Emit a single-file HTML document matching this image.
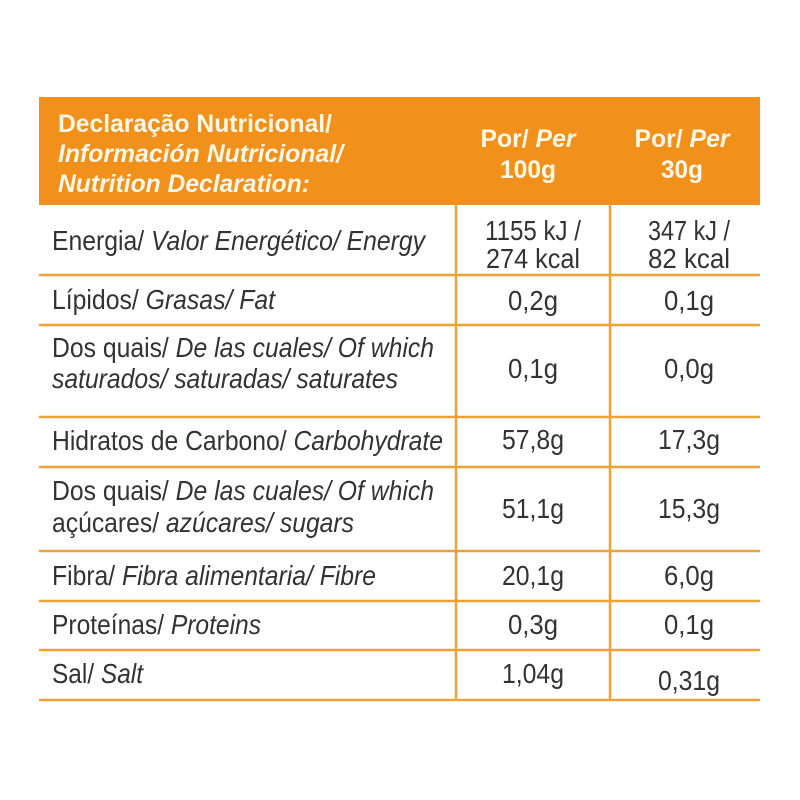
<!DOCTYPE html>
<html><head><meta charset="utf-8"><style>
html,body{margin:0;padding:0;background:#fff;width:800px;height:800px;overflow:hidden}
svg text{font-family:"Liberation Sans",sans-serif}
</style></head><body>
<svg width="800" height="800" viewBox="0 0 800 800" xmlns="http://www.w3.org/2000/svg">
<rect x="39" y="97" width="721" height="108" fill="#F1901A"/>
<g stroke="#EFA135" stroke-width="2.5" fill="none">
<line x1="39" y1="275" x2="760" y2="275"/>
<line x1="39" y1="325" x2="760" y2="325"/>
<line x1="39" y1="417" x2="760" y2="417"/>
<line x1="39" y1="467" x2="760" y2="467"/>
<line x1="39" y1="551" x2="760" y2="551"/>
<line x1="39" y1="601" x2="760" y2="601"/>
<line x1="39" y1="650" x2="760" y2="650"/>
<line x1="39" y1="700" x2="760" y2="700"/>
<line x1="456" y1="204" x2="456" y2="700"/>
<line x1="610" y1="204" x2="610" y2="700"/>
</g>
<g fill="#FFF8E8" font-weight="bold" font-size="25">
<text x="58" y="132" textLength="274" lengthAdjust="spacingAndGlyphs">Declaração Nutricional/</text>
<text x="58" y="162" textLength="285" lengthAdjust="spacingAndGlyphs" font-style="italic">Información Nutricional/</text>
<text x="58" y="192" textLength="252" lengthAdjust="spacingAndGlyphs" font-style="italic">Nutrition Declaration:</text>
<text x="528" y="147" text-anchor="middle" textLength="95" lengthAdjust="spacingAndGlyphs">Por/ <tspan font-style="italic">Per</tspan></text>
<text x="528" y="178" text-anchor="middle" textLength="56" lengthAdjust="spacingAndGlyphs">100g</text>
<text x="682" y="147" text-anchor="middle" textLength="95" lengthAdjust="spacingAndGlyphs">Por/ <tspan font-style="italic">Per</tspan></text>
<text x="682" y="178" text-anchor="middle" textLength="42" lengthAdjust="spacingAndGlyphs">30g</text>
</g>
<g fill="#333" font-size="28">
<text x="52" y="250" textLength="373" lengthAdjust="spacingAndGlyphs">Energia/ <tspan font-style="italic">Valor Energético/ Energy</tspan></text>
<text x="52" y="309" textLength="223" lengthAdjust="spacingAndGlyphs">Lípidos/ <tspan font-style="italic">Grasas/ Fat</tspan></text>
<text x="52" y="357" textLength="382" lengthAdjust="spacingAndGlyphs">Dos quais/ <tspan font-style="italic">De las cuales/ Of which</tspan></text>
<text x="52" y="388" textLength="346" lengthAdjust="spacingAndGlyphs" font-style="italic">saturados/ saturadas/ saturates</text>
<text x="52" y="450" textLength="391" lengthAdjust="spacingAndGlyphs">Hidratos de Carbono/ <tspan font-style="italic">Carbohydrate</tspan></text>
<text x="52" y="500" textLength="382" lengthAdjust="spacingAndGlyphs">Dos quais/ <tspan font-style="italic">De las cuales/ Of which</tspan></text>
<text x="52" y="532" textLength="302" lengthAdjust="spacingAndGlyphs">açúcares/ <tspan font-style="italic">azúcares/ sugars</tspan></text>
<text x="52" y="585" textLength="324" lengthAdjust="spacingAndGlyphs">Fibra/ <tspan font-style="italic">Fibra alimentaria/ Fibre</tspan></text>
<text x="52" y="634" textLength="209" lengthAdjust="spacingAndGlyphs">Proteínas/ <tspan font-style="italic">Proteins</tspan></text>
<text x="52" y="683" textLength="91" lengthAdjust="spacingAndGlyphs">Sal/ <tspan font-style="italic">Salt</tspan></text>
</g>
<g fill="#333" font-size="28" text-anchor="middle">
<text x="533" y="240" textLength="96" lengthAdjust="spacingAndGlyphs">1155 kJ /</text>
<text x="533" y="268" textLength="94" lengthAdjust="spacingAndGlyphs">274 kcal</text>
<text x="689" y="240" textLength="82" lengthAdjust="spacingAndGlyphs">347 kJ /</text>
<text x="689" y="268" textLength="82" lengthAdjust="spacingAndGlyphs">82 kcal</text>
<text x="533" y="310" textLength="50" lengthAdjust="spacingAndGlyphs">0,2g</text>
<text x="689" y="310" textLength="50" lengthAdjust="spacingAndGlyphs">0,1g</text>
<text x="533" y="378" textLength="50" lengthAdjust="spacingAndGlyphs">0,1g</text>
<text x="689" y="378" textLength="50" lengthAdjust="spacingAndGlyphs">0,0g</text>
<text x="533" y="449" textLength="62" lengthAdjust="spacingAndGlyphs">57,8g</text>
<text x="689" y="449" textLength="62" lengthAdjust="spacingAndGlyphs">17,3g</text>
<text x="533" y="518" textLength="62" lengthAdjust="spacingAndGlyphs">51,1g</text>
<text x="689" y="518" textLength="62" lengthAdjust="spacingAndGlyphs">15,3g</text>
<text x="533" y="585" textLength="62" lengthAdjust="spacingAndGlyphs">20,1g</text>
<text x="689" y="585" textLength="50" lengthAdjust="spacingAndGlyphs">6,0g</text>
<text x="533" y="634" textLength="50" lengthAdjust="spacingAndGlyphs">0,3g</text>
<text x="689" y="634" textLength="50" lengthAdjust="spacingAndGlyphs">0,1g</text>
<text x="533" y="683" textLength="62" lengthAdjust="spacingAndGlyphs">1,04g</text>
<text x="689" y="690" textLength="62" lengthAdjust="spacingAndGlyphs">0,31g</text>
</g>
</svg>
</body></html>
